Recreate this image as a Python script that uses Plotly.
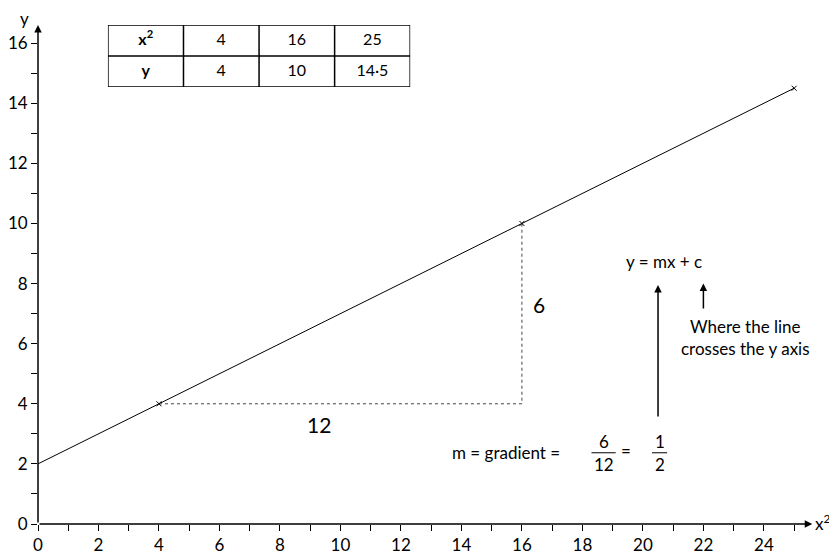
import plotly.graph_objects as go

# table values
x_sq = [4, 16, 25]
y_vals = [4, 10, 14.5]
y_labels = ["4", "10", "14·5"]

# line of best fit, y = 0.5 x + 2
line_x = [0, 25]
line_y = [2, 14.5]

# gradient triangle (run then rise)
tri_x = [4, 16, 16]
tri_y = [4, 4, 10]

x_major = list(range(0, 25, 2))
y_major = list(range(0, 17, 2))

FONT = "Lato"

fig = go.Figure()

fig.add_trace(go.Scatter(
    x=line_x, y=line_y, mode="lines",
    line=dict(color="black", width=1), hoverinfo="skip"
))
fig.add_trace(go.Scatter(
    x=tri_x, y=tri_y, mode="lines",
    line=dict(color="#444", width=1, dash="dot"), hoverinfo="skip"
))
fig.add_trace(go.Scatter(
    x=x_sq, y=y_vals, mode="markers",
    marker=dict(symbol="x-thin", size=5, line=dict(color="black", width=1)),
    hoverinfo="skip"
))

# the table, drawn on its own small axes
row1 = ["<b>x<sup>2</sup></b>"] + [str(v) for v in x_sq]
row2 = ["<b>y</b>"] + y_labels
fig.add_trace(go.Scatter(
    x=[0.5, 1.5, 2.5, 3.5] * 2, y=[1.5] * 4 + [0.5] * 4,
    text=row1 + row2, mode="text", textfont=dict(size=16, color="black"),
    xaxis="x2", yaxis="y2", hoverinfo="skip"
))

ann = []
# axes with arrowheads
ann.append(dict(x=25.6, y=0, ax=0, ay=0, xref="x", yref="y", axref="x", ayref="y",
                text="", showarrow=True, arrowhead=2, arrowsize=1, arrowwidth=1.5,
                arrowcolor="black"))
ann.append(dict(x=0, y=16.6, ax=0, ay=0, xref="x", yref="y", axref="x", ayref="y",
                text="", showarrow=True, arrowhead=2, arrowsize=1, arrowwidth=1.5,
                arrowcolor="black"))
ann.append(dict(x=-0.017, y=1.003, xref="paper", yref="paper", text="y", showarrow=False,
                xanchor="center", yanchor="middle", font=dict(size=17)))
ann.append(dict(x=1.01, y=0.003, xref="paper", yref="paper", text="x<sup>2</sup>",
                xanchor="center", yanchor="middle", showarrow=False, font=dict(size=17)))

# triangle labels
ann.append(dict(x=9.3, y=3.3, text="12", showarrow=False, font=dict(size=21)))
ann.append(dict(x=16.55, y=7.3, text="6", showarrow=False, font=dict(size=21)))

# equation and notes
ann.append(dict(x=20.7, y=8.72, text="y = mx + c", showarrow=False, font=dict(size=17)))
ann.append(dict(x=20.5, y=7.95, ax=20.5, ay=3.53, axref="x", ayref="y", text="",
                showarrow=True, arrowhead=2, arrowsize=1, arrowwidth=1.5, arrowcolor="black"))
ann.append(dict(x=22.0, y=8.0, ax=22.0, ay=7.12, axref="x", ayref="y", text="",
                showarrow=True, arrowhead=2, arrowsize=1, arrowwidth=1.5, arrowcolor="black"))
ann.append(dict(x=23.4, y=6.21, text="Where the line<br>crosses the y axis", showarrow=False,
                font=dict(size=17)))
ann.append(dict(x=15.55, y=2.38, text="m = gradient = ", showarrow=False, font=dict(size=17)))
ann.append(dict(x=18.7, y=2.75, text="6", showarrow=False, font=dict(size=17)))
ann.append(dict(x=18.7, y=1.98, text="12", showarrow=False, font=dict(size=17)))
ann.append(dict(x=19.45, y=2.45, text="=", showarrow=False, font=dict(size=17)))
ann.append(dict(x=20.55, y=2.75, text="1", showarrow=False, font=dict(size=17)))
ann.append(dict(x=20.55, y=1.98, text="2", showarrow=False, font=dict(size=17)))

shapes = [
    dict(type="line", x0=18.3, x1=19.1, y0=2.37, y1=2.37, line=dict(color="black", width=1)),
    dict(type="line", x0=20.3, x1=20.8, y0=2.37, y1=2.37, line=dict(color="black", width=1)),
]
# table grid
tline = dict(color="black", width=1.5)
shapes.append(dict(type="rect", xref="x2", yref="y2", x0=0, x1=4, y0=0, y1=2,
                   line=tline, fillcolor="white", layer="below"))
shapes.append(dict(type="line", xref="x2", yref="y2", x0=0, x1=4, y0=1, y1=1, line=tline))
for c in [1, 2, 3]:
    shapes.append(dict(type="line", xref="x2", yref="y2", x0=c, x1=c, y0=0, y1=2, line=tline))

tick_common = dict(
    showgrid=False, zeroline=False, showline=False, automargin=False,
    ticks="outside", ticklen=6, tickwidth=1.2, tickcolor="black",
    tickfont=dict(size=17), fixedrange=True,
)
minor = dict(dtick=1, tick0=0, ticks="outside", ticklen=6, tickwidth=1.2,
             tickcolor="black", showgrid=False)

# page body adds an 8px offset, so the figure is trimmed to fit the window
fig.update_layout(
    width=829, height=547,
    margin=dict(l=30, r=22, t=12, b=31),
    paper_bgcolor="white", plot_bgcolor="white",
    showlegend=False,
    font=dict(family=FONT, size=17, color="black"),
    annotations=ann,
    shapes=shapes,
    xaxis=dict(range=[0, 25.69], tickmode="array", tickvals=x_major, minor=minor, **tick_common),
    yaxis=dict(range=[0, 16.77], tickmode="array", tickvals=y_major, minor=minor, **tick_common),
    xaxis2=dict(domain=[0.090, 0.479], range=[0, 4], anchor="y2", visible=False, fixedrange=True),
    yaxis2=dict(domain=[0.867, 0.990], range=[0, 2], anchor="x2", visible=False, fixedrange=True),
)

fig.write_html("out.html")
